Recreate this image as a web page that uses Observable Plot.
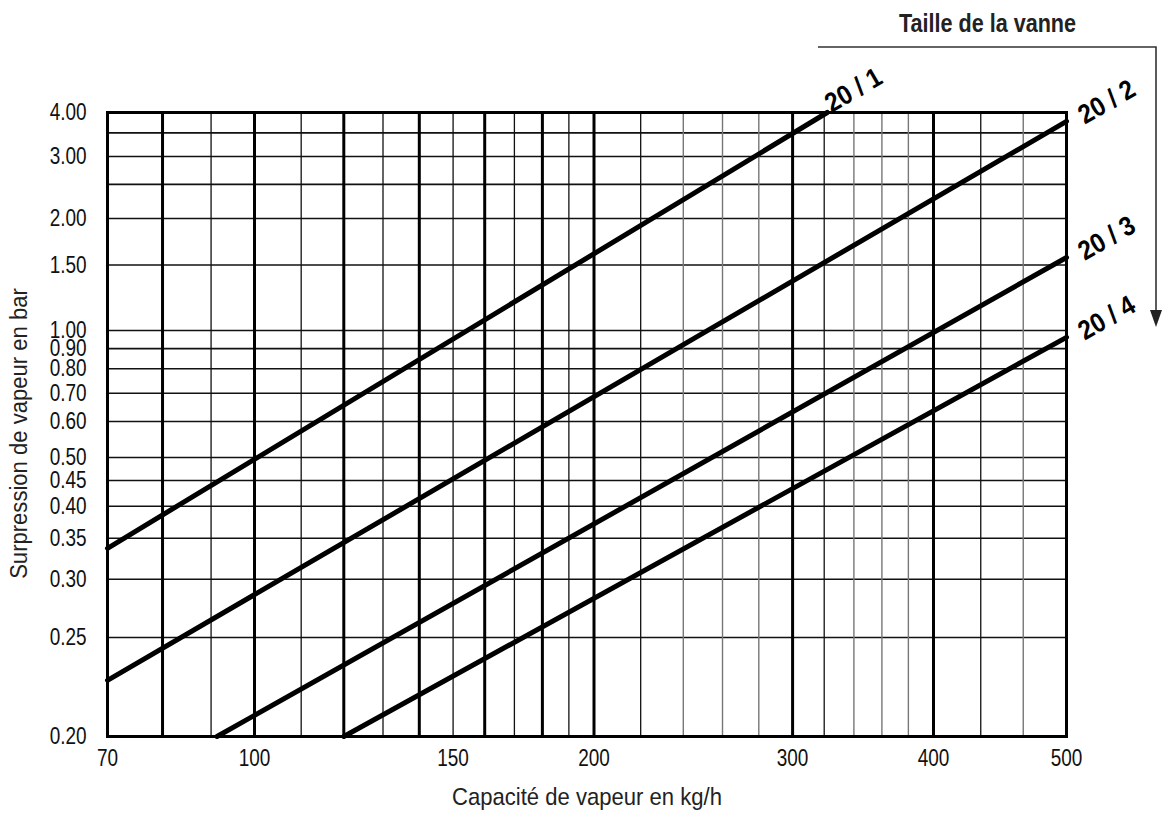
<!DOCTYPE html>
<html><head><meta charset="utf-8">
<script src="https://cdn.jsdelivr.net/npm/d3@7"></script>
<script src="https://cdn.jsdelivr.net/npm/@observablehq/plot@0.6"></script>
<style>body{margin:0;background:#fff}</style>
</head><body><div id="chart"></div>
<script>
// ---- data ----
const seriesNames = ["20 / 1", "20 / 2", "20 / 3", "20 / 4"];
const startCapacity = [70, 70, 91.3, 120];
const startPressure = [0.337, 0.227, 0.2, 0.2];
const endCapacity = [322, 500, 500, 500];
const endPressure = [4.0, 3.775, 1.571, 0.961];

const xTicks = [70, 100, 150, 200, 300, 400, 500];
const yTicks = [0.2, 0.25, 0.3, 0.35, 0.4, 0.45, 0.5, 0.6, 0.7, 0.8, 0.9, 1, 1.5, 2, 3, 4];
const xGridMajor = [80, 100, 120, 140, 160, 180, 200, 300, 400];
const xGridMinor = [90, 110, 130, 150, 170, 190, 220, 320, 433];
const xGridFaint = [240, 260, 280, 340, 360, 380, 465];
const yGrid = [0.25, 0.3, 0.35, 0.4, 0.45, 0.5, 0.6, 0.7, 0.8, 0.9, 1, 1.5, 2, 2.5, 3, 3.5];

const xTitle = "Capacité de vapeur en kg/h";
const yTitle = "Surpression de vapeur en bar";
const legendTitle = "Taille de la vanne";

// ---- tables ----
const lineRows = seriesNames.flatMap((name, i) => [
  {name, x: startCapacity[i], y: startPressure[i]},
  {name, x: endCapacity[i], y: endPressure[i]}
]);
const labelRows = seriesNames.map((name, i) => ({name, x: endCapacity[i], y: endPressure[i]}));

const FONT = "'Liberation Sans', Arial, sans-serif";
const W = 1166, H = 817, mL = 107, mR = 100, mT = 112, mB = 81;

// the printed chart uses a non-uniform (piecewise logarithmic) scale
const xScale = {type: "log", domain: [70, 100, 400, 500], range: [mL, 254, 933, W - mR]};
const yScale = {type: "log",
  domain: [0.2, 0.25, 0.3, 0.35, 0.4, 0.5, 0.6, 0.8, 1, 2, 4],
  range: [H - mB, 637, 578.7, 537.7, 505.7, 457, 421, 368.3, 330, 218, mT]};

function arrowMark() {
  return (index, scales, values, dims) => {
    const right = dims.width - dims.marginRight;
    const x0 = right - 248, x1 = right + 90, y0 = dims.marginTop - 65, y1 = dims.marginTop + 215;
    const g = d3.create("svg:g");
    g.append("path").attr("d", `M${x0},${y0}H${x1}V${y1 - 14}`)
      .attr("fill", "none").attr("stroke", "#333").attr("stroke-width", 1.6);
    g.append("path").attr("d", `M${x1 - 6},${y1 - 17}L${x1 + 6},${y1 - 17}L${x1},${y1}Z`).attr("fill", "#222");
    return g.node();
  };
}

const plot = Plot.plot({
  width: W, height: H,
  marginLeft: mL, marginRight: mR, marginTop: mT, marginBottom: mB,
  style: {fontFamily: FONT, background: "#fff", color: "#111"},
  x: xScale,
  y: yScale,
  axis: null,
  marks: [
    Plot.ruleY(yGrid, {stroke: "#111", strokeWidth: 1.6}),
    Plot.ruleX(xGridFaint, {stroke: "#777", strokeWidth: 1.4}),
    Plot.ruleX(xGridMinor, {stroke: "#111", strokeWidth: 1.3}),
    Plot.ruleX(xGridMajor, {stroke: "#000", strokeWidth: 3}),
    Plot.frame({stroke: "#000", strokeWidth: 3}),
    Plot.line(lineRows, {x: "x", y: "y", z: "name", stroke: "#000", strokeWidth: 5, strokeLinecap: "round"}),
    Plot.text(xTicks, {x: d => d, frameAnchor: "bottom", dy: 22, text: d => String(d), textAnchor: "middle", lineAnchor: "middle", fontSize: 24, fill: "#111", className: "sx-tick"}),
    Plot.text(yTicks, {y: d => d, frameAnchor: "left", dx: -21, text: d => d.toFixed(2), textAnchor: "end", lineAnchor: "middle", fontSize: 24, fill: "#111", className: "sx-tick"}),
    Plot.text([xTitle], {frameAnchor: "bottom", dy: 61, text: d => d, textAnchor: "middle", fontSize: 24, lineAnchor: "middle", fill: "#222", className: "sx-title"}),
    Plot.text([yTitle], {frameAnchor: "left", dx: -88, dy: 9, rotate: -90, text: d => d, textAnchor: "middle", fontSize: 24, lineAnchor: "middle", fill: "#222", className: "sx-title"}),
    Plot.text(labelRows.slice(0, 1), {x: "x", y: "y", text: "name", rotate: -30, textAnchor: "start", dx: 0, dy: -7, fontSize: 27, fontWeight: "bold", fill: "#000", className: "sx-lab"}),
    Plot.text(labelRows.slice(1), {x: "x", y: "y", text: "name", rotate: -30, textAnchor: "start", dx: 14, dy: -4, fontSize: 27, fontWeight: "bold", fill: "#000", className: "sx-lab"}),
    Plot.text([legendTitle], {frameAnchor: "top-right", dx: -79, dy: -89, text: d => d, textAnchor: "middle", lineAnchor: "middle", fontSize: 26, fontWeight: "bold", fill: "#222", className: "sx-head"}),
    arrowMark()
  ]
});
document.getElementById("chart").append(plot);

// imitate the condensed typeface of the original print
function condense(selector, k) {
  plot.querySelectorAll(selector).forEach(t => {
    const tr = t.getAttribute("transform") || "";
    t.setAttribute("transform", `${tr} scale(${k},1)`);
  });
}
condense("g.sx-tick text", 0.79);
condense("g.sx-title text", 0.92);
condense("g.sx-lab text", 0.9);
condense("g.sx-head text", 0.83);
</script>
</body></html>
